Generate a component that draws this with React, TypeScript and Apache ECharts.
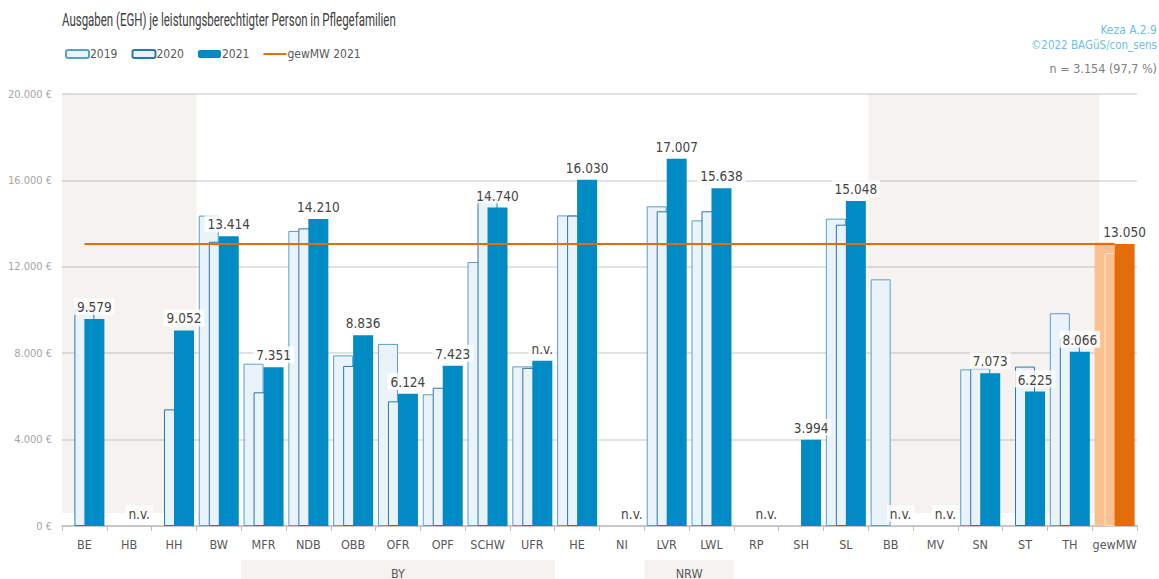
import React, { useEffect, useRef } from "react";
import * as echarts from "echarts";

const categories = ["BE","HB","HH","BW","MFR","NDB","OBB","OFR","OPF","SCHW","UFR","HE","NI","LVR","LWL","RP","SH","SL","BB","MV","SN","ST","TH","gewMW"];
const values2019: (number | null)[] = [null,null,null,14370,7515,13660,7900,8430,6100,12220,7390,14380,null,14800,14150,null,null,14230,11420,null,7250,null,9850,13120];
const values2020: (number | null)[] = [10030,null,5400,13160,6190,13780,7410,5770,6400,15140,7320,14370,null,14570,14570,null,null,13950,null,null,7300,7380,8690,12640];
const values2021: (number | null)[] = [9579,null,9052,13414,7351,14210,8836,6124,7423,14740,7654,16030,null,17007,15638,null,3994,15048,null,null,7073,6225,8066,13050];
const nvLabels = ["HB","UFR","NI","RP","BB","MV"];
const gewMW2021 = 13050;
const yTicks = { min: 0, max: 20000, interval: 4000 };
const shadedRanges = [{ from: "BE", to: "HH" }, { from: "BB", to: "TH" }];
const groups = [{ name: "BY", from: "MFR", to: "UFR" }, { name: "NRW", from: "LVR", to: "LWL" }];
const TITLE = "Ausgaben (EGH) je leistungsberechtigter Person in Pflegefamilien";

const FONT = "'DejaVu Sans Condensed', Roboto, sans-serif";
const TFONT = "Roboto, sans-serif";

const fmt = (v: number) => String(Math.round(v)).replace(/\B(?=(\d{3})+(?!\d))/g, ".");

const LIGHT = "#EAF3F9";
const BLUE = "#008BC4";
const ORANGE = "#E46C0A";
const LORANGE = "#FAC08F";

function measure(text: string, font: string): number {
  const c = document.createElement("canvas").getContext("2d");
  if (!c) return text.length * 8;
  c.font = font;
  return c.measureText(text).width;
}

export default function App() {
  const ref = useRef<HTMLDivElement>(null);
  useEffect(() => {
    if (!ref.current) return;
    const chart = echarts.init(ref.current, null, { renderer: "svg" });
    const last = categories.length - 1;
    const mk = (vals: (number | null)[], lastStyle: any) =>
      vals.map((v, i) => (i === last ? { value: v, itemStyle: lastStyle } : v));

    const option: any = {
      animation: false,
      textStyle: { fontFamily: FONT },
      legend: {
        left: 60, top: 43, itemWidth: 23, itemHeight: 8, itemGap: 14,
        textStyle: { fontFamily: FONT, fontSize: 12, color: "#595959", padding: [0, 0, 0, -4] },
        data: ["2019", "2020", "2021", { name: "gewMW 2021", icon: "path://M0,0H23V2H0Z" }],
        selectedMode: false,
      },
      grid: { left: 62, right: 22, top: 94, bottom: 53 },
      xAxis: [
        {
          type: "category", data: categories,
          axisLine: { lineStyle: { color: "#BFBFBF", width: 1.5 } },
          axisTick: { show: true, length: 5, lineStyle: { color: "#BFBFBF" } },
          axisLabel: { color: "#595959", fontSize: 12.5, margin: 12, fontFamily: FONT, interval: 0 },
        },
        { type: "value", min: 0, max: categories.length, show: false },
      ],
      yAxis: {
        type: "value", min: yTicks.min, max: yTicks.max, interval: yTicks.interval,
        axisLabel: { formatter: (v: number) => fmt(v) + " €", color: "#A6A6A6", fontSize: 11, margin: 10, fontFamily: FONT },
        splitLine: { lineStyle: { color: "#D9D9D9", width: 1.5 } },
        axisLine: { show: false }, axisTick: { show: false },
      },
      series: [
        {
          name: "bg", type: "scatter", xAxisIndex: 1, data: [], silent: true,
          markArea: {
            silent: true,
            itemStyle: { color: "rgba(155,125,95,0.1)" },
            data: shadedRanges.map((r) => [
              { xAxis: categories.indexOf(r.from), yAxis: 600 },
              { xAxis: categories.indexOf(r.to) + 1 + (r.to === "TH" ? 0.15 : 0), yAxis: yTicks.max },
            ]),
          },
        },
        {
          name: "2019", type: "bar", barWidth: 20, barGap: "-50%",
          itemStyle: { color: LIGHT, borderColor: "#5AA0C4", borderWidth: 1 },
          data: mk(values2019, { color: LORANGE, borderColor: LORANGE }),
        },
        {
          name: "2020", type: "bar", barWidth: 20, barGap: "-50%",
          itemStyle: { color: LIGHT, borderColor: "#2A78A6", borderWidth: 1 },
          data: mk(values2020, { color: LORANGE, borderColor: "#FDE3CC" }),
        },
        {
          name: "2021", type: "bar", barWidth: 20, barGap: "-50%",
          itemStyle: { color: BLUE },
          data: values2021.map((v, i) => (i === last ? { value: v, itemStyle: { color: ORANGE } } : (v ?? 0))),
          label: {
            show: true, position: "top", distance: 4,
            fontFamily: FONT, fontSize: 13.5, color: "#454545",
            backgroundColor: "rgba(255,255,255,0.8)", padding: [2, 3, 1, 3],
            formatter: (p: any) => (nvLabels.includes(categories[p.dataIndex]) ? "n.v." : fmt(p.value)),
          },
        },
        {
          name: "gewMW 2021", type: "line", data: [], symbol: "none",
          itemStyle: { color: ORANGE }, lineStyle: { color: ORANGE, width: 2 },
          markLine: {
            silent: true, symbol: ["none", "none"], label: { show: false },
            lineStyle: { color: ORANGE, width: 2, type: "solid" },
            data: [[{ coord: [categories[0], gewMW2021] }, { coord: [categories[last], gewMW2021] }]],
          },
        },
      ],
    };
    chart.setOption(option);

    const titleFont = `18px ${TFONT}`;
    const tw = measure(TITLE, titleFont);
    const graphics: any[] = [
      { type: "text", x: 62, y: 20, scaleX: 334 / tw, style: { text: TITLE, fill: "#404040", font: titleFont, align: "left", verticalAlign: "middle" } },
      { type: "text", x: 1157, y: 30, style: { text: "Keza A.2.9", fill: "#6EC1E4", font: `12px ${FONT}`, align: "right", verticalAlign: "middle" } },
      { type: "text", x: 1157, y: 45, style: { text: "©2022 BAGüS/con_sens", fill: "#6EC1E4", font: `11.5px ${FONT}`, align: "right", verticalAlign: "middle" } },
      { type: "text", x: 1157, y: 68, style: { text: "n = 3.154 (97,7 %)", fill: "#7F7F7F", font: `12.5px ${FONT}`, align: "right", verticalAlign: "middle" } },
    ];
    groups.forEach((g) => {
      const x0 = chart.convertToPixel({ xAxisIndex: 1 }, categories.indexOf(g.from)) as number;
      const x1 = chart.convertToPixel({ xAxisIndex: 1 }, categories.indexOf(g.to) + 1) as number;
      graphics.push({ type: "rect", shape: { x: x0, y: 560, width: x1 - x0, height: 25 }, style: { fill: "#F5F2EF" }, z: -1 });
      graphics.push({ type: "text", x: (x0 + x1) / 2, y: 573, style: { text: g.name, fill: "#595959", font: `12.5px ${FONT}`, align: "center", verticalAlign: "middle" } });
    });
    chart.setOption({ graphic: graphics });
    return () => chart.dispose();
  }, []);
  return <div ref={ref} style={{ width: 1159, height: 579, position: "absolute", left: 0, top: 0 }} />;
}
